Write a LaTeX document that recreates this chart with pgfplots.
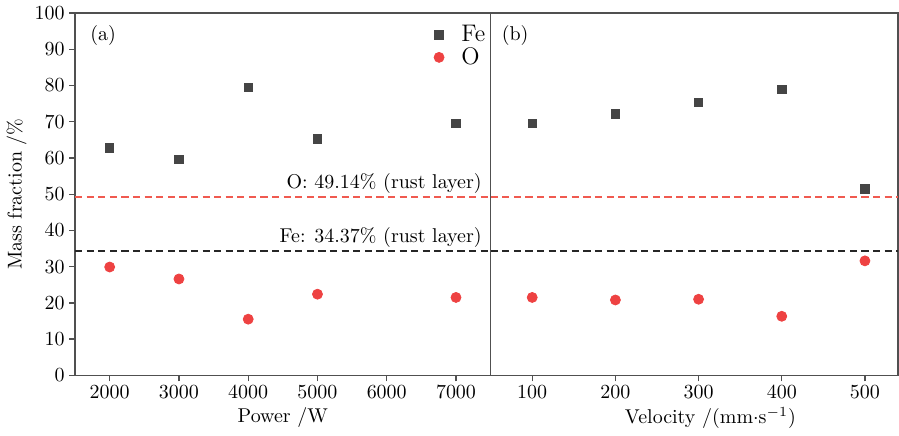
\documentclass[border=0pt]{standalone}
\usepackage{pgfplots}
\pgfplotsset{compat=1.18}
\definecolor{feC}{HTML}{454545}
\definecolor{oC}{HTML}{EE4242}
\definecolor{oLine}{HTML}{F05A50}
\definecolor{axC}{HTML}{505050}
\begin{document}
\begin{tikzpicture}
\pgfplotsset{
  common/.style={
    scale only axis, height=181.3pt, ymin=0, ymax=100,
    axis line style={axC, line width=0.8pt},
    tick style={axC, line width=0.7pt},
    tick align=outside, major tick length=3pt,
    xtick pos=bottom,
    /pgf/number format/set thousands separator={},
    every tick label/.append style={font=\normalsize},
    xticklabel style={inner ysep=2pt},
    label style={font=\normalsize},
    xlabel style={yshift=1pt},
  },
  refline/.style={forget plot, line width=1pt, dash pattern=on 3.6pt off 2.2pt},
}
\begin{axis}[common, name=left, width=208pt,
  xmin=1500, xmax=7500, xtick={2000,3000,4000,5000,6000,7000},
  ytick={0,10,...,100}, ytick pos=left,
  yticklabel style={inner xsep=2pt},
  ylabel style={yshift=-1.5pt},
  xlabel={Power /W}, ylabel={Mass fraction /\%},
  legend style={at={(rel axis cs:1.0,0.99)}, xshift=-0.5pt, anchor=north east, draw=none, fill=none, font=\large, row sep=-2.5pt, inner xsep=0pt},
  legend image code/.code={\path (-3pt,0pt) (9pt,0pt); \draw[#1] plot coordinates {(0pt,0pt)};},
  legend cell align=left,
]
\addplot[only marks, mark=square*, mark size=2.1pt, color=feC] coordinates {
 (2000,62.8) (3000,59.6) (4000,79.5) (5000,65.3) (7000,69.6)};
\addlegendentry{Fe}
\addplot[only marks, mark=*, mark size=2.5pt, color=oC] coordinates {
 (2000,29.9) (3000,26.6) (4000,15.5) (5000,22.4) (7000,21.5)};
\addlegendentry{O}
\addplot[refline, color=oLine] coordinates {(1500,49.14) (7500,49.14)};
\addplot[refline, color=black!85] coordinates {(1500,34.37) (7500,34.37)};
\node[anchor=south east, inner sep=1.5pt] at (axis cs:7420,49.14) {O: 49.14\% (rust layer)};
\node[anchor=south east, inner sep=1.5pt] at (axis cs:7420,34.37) {Fe: 34.37\% (rust layer)};
\node[anchor=north west] at (rel axis cs:0.02,0.985) {(a)};
\end{axis}
\begin{axis}[common, at={(left.south east)}, anchor=south west, width=204pt,
  xmin=50, xmax=540, xtick={100,200,300,400,500},
  ytick=\empty, xlabel={Velocity /(mm$\cdot$s$^{-1}$)},
  xlabel style={xshift=8pt},
]
\addplot[only marks, mark=square*, mark size=2.1pt, color=feC] coordinates {
 (100,69.6) (200,72.2) (300,75.4) (400,78.9) (500,51.5)};
\addplot[only marks, mark=*, mark size=2.5pt, color=oC] coordinates {
 (100,21.5) (200,20.8) (300,21.0) (400,16.3) (500,31.6)};
\addplot[refline, color=oLine] coordinates {(50,49.14) (540,49.14)};
\addplot[refline, color=black!85] coordinates {(50,34.37) (540,34.37)};
\node[anchor=north west] at (rel axis cs:0.01,0.985) {(b)};
\end{axis}
\end{tikzpicture}
\end{document}
